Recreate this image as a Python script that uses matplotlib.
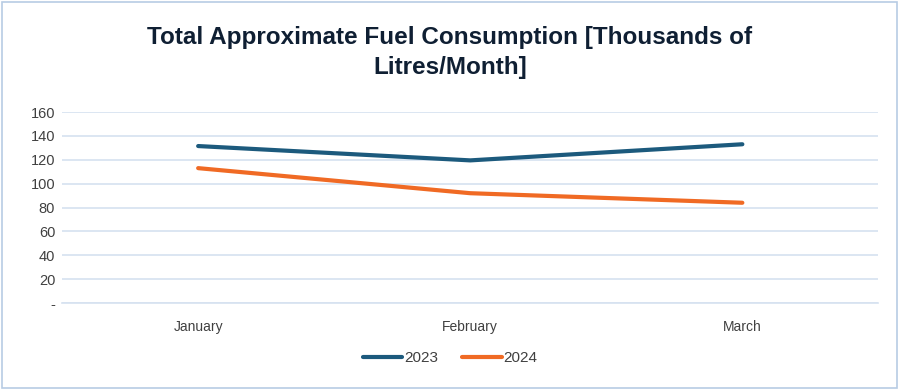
import matplotlib
matplotlib.use("Agg")
import matplotlib.pyplot as plt
from matplotlib.patches import Rectangle

months = ["January", "February", "March"]
fuel_2023 = [131.5, 119.5, 133]
fuel_2024 = [113, 92, 84]
yticks = [0, 20, 40, 60, 80, 100, 120, 140, 160]
ytick_labels = ["-", "20", "40", "60", "80", "100", "120", "140", "160"]

plt.rcParams["font.family"] = ["Liberation Sans", "DejaVu Sans"]

fig = plt.figure(figsize=(9, 3.89), dpi=100)
ax = fig.add_axes([0.069, 0.221, 0.907, 0.491])

x = range(len(months))
ax.plot(x, fuel_2023, color="#1c5a7d", lw=3, solid_capstyle="round", label="2023")
ax.plot(x, fuel_2024, color="#f06a24", lw=3, solid_capstyle="round", label="2024")

ax.set_xlim(-0.5, 2.5)
ax.set_ylim(0, 160)
ax.set_yticks(yticks)
ax.set_yticklabels(ytick_labels)
ax.set_xticks(list(x))
ax.set_xticklabels(months)
ax.grid(axis="y", color="#d6e2f0", lw=1.2)
ax.set_axisbelow(True)
for s in ["top", "right", "left"]:
    ax.spines[s].set_visible(False)
ax.spines["bottom"].set_color("#d6e2f0")
ax.spines["bottom"].set_linewidth(1.2)
ax.tick_params(axis="y", length=0, pad=5, labelsize=10.5, labelcolor="#404040")
ax.tick_params(axis="x", length=0, pad=12, labelsize=10, labelcolor="#404040")

fig.text(0.5, 0.865, "Total Approximate Fuel Consumption [Thousands of\nLitres/Month]",
         ha="center", va="center", fontsize=17.5, fontweight="bold", color="#0f1f33",
         linespacing=1.4)

leg = fig.legend(loc="center", bbox_to_anchor=(0.5, 0.08), ncol=2, frameon=False,
                 fontsize=11, handlelength=2.6, handletextpad=0.1, columnspacing=1.6)
for t in leg.get_texts():
    t.set_color("#404040")

fig.patches.append(Rectangle((0.002, 0.003), 0.995, 0.993, transform=fig.transFigure,
                             fill=False, edgecolor="#b8cce4", lw=1.2))

fig.savefig("out.png", dpi=100)
